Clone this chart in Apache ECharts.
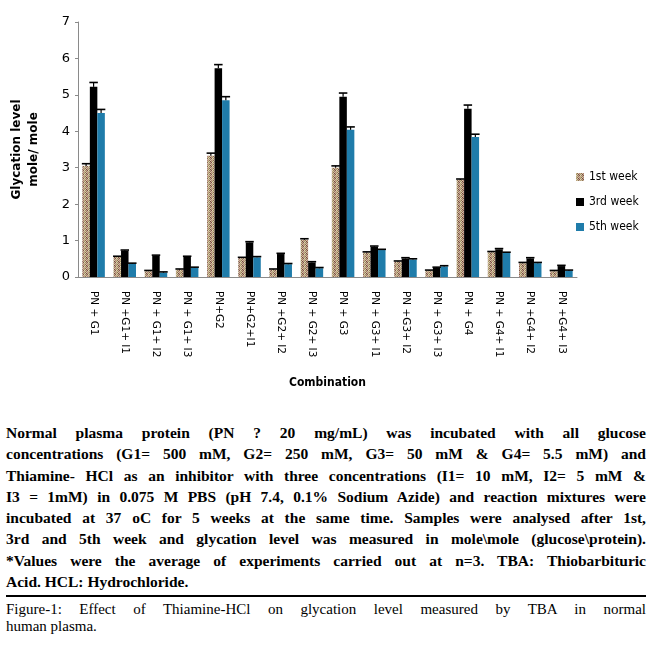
<!DOCTYPE html>
<html>
<head>
<meta charset="utf-8">
<script src="https://cdn.jsdelivr.net/npm/echarts@6/dist/echarts.min.js"></script>
<style>
  html, body { margin: 0; padding: 0; background: #fff; }
  #chart { width: 650px; height: 395px; }
  #notes { position: absolute; left: 6px; top: 422px; width: 640px;
           font-family: "Liberation Serif", "DejaVu Serif", serif; color: #000; }
  .para div { font-weight: bold; font-size: 15.5px; line-height: 21.3px; height: 21.3px;
              text-align: justify; text-align-last: justify; white-space: nowrap; }
  .para div.last { text-align-last: left; }
  .rule { border-top: 2.5px solid #000; margin-top: 3px; }
  .caption div { font-size: 15px; line-height: 17px; height: 17px;
                 text-align: justify; text-align-last: justify; white-space: nowrap; }
  .caption div.last { text-align-last: left; }
</style>
</head>
<body>
<div id="chart"></div>
<div id="notes">
  <div class="para">
    <div>Normal plasma protein (PN ? 20 mg/mL) was incubated with all glucose</div>
    <div>concentrations (G1= 500 mM, G2= 250 mM, G3= 50 mM &amp; G4= 5.5 mM) and</div>
    <div>Thiamine- HCl as an inhibitor with three concentrations (I1= 10 mM, I2= 5 mM &amp;</div>
    <div>I3 = 1mM) in 0.075 M PBS (pH 7.4, 0.1% Sodium Azide) and reaction mixtures were</div>
    <div>incubated at 37 oC for 5 weeks at the same time. Samples were analysed after 1st,</div>
    <div>3rd and 5th week and glycation level was measured in mole\mole (glucose\protein).</div>
    <div>*Values were the average of experiments carried out at n=3. TBA: Thiobarbituric</div>
    <div class="last">Acid. HCL: Hydrochloride.</div>
  </div>
  <div class="rule"></div>
  <div class="caption" style="margin-top:4px">
    <div>Figure-1: Effect of Thiamine-HCl on glycation level measured by TBA in normal</div>
    <div class="last">human plasma.</div>
  </div>
</div>
<script>
// x categories
var categories = ['PN + G1', 'PN +G1+ I1', 'PN + G1+ I2', 'PN + G1+ I3',
  'PN+G2', 'PN+G2+I1', 'PN +G2+ I2', 'PN + G2+ I3',
  'PN + G3', 'PN + G3+ I1', 'PN +G3+ I2', 'PN + G3+ I3',
  'PN + G4', 'PN + G4+ I1', 'PN +G4+ I2', 'PN +G4+ I3'];

// glycation level (mole/mole)
var week1 = [3.05, 0.55, 0.16, 0.20, 3.33, 0.52, 0.20, 1.02, 3.00, 0.67, 0.42, 0.17, 2.66, 0.68, 0.38, 0.16];
var week3 = [5.22, 0.72, 0.58, 0.55, 5.73, 0.95, 0.63, 0.40, 4.95, 0.83, 0.51, 0.25, 4.62, 0.76, 0.51, 0.30];
var week5 = [4.50, 0.36, 0.12, 0.25, 4.85, 0.54, 0.35, 0.24, 4.04, 0.74, 0.48, 0.29, 3.84, 0.66, 0.38, 0.17];

// error bar heights
var err1 = [0.06, 0.02, 0.02, 0.02, 0.07, 0.02, 0.02, 0.03, 0.05, 0.02, 0.02, 0.02, 0.03, 0.02, 0.02, 0.02];
var err3 = [0.12, 0.02, 0.02, 0.02, 0.10, 0.02, 0.02, 0.02, 0.10, 0.02, 0.02, 0.02, 0.10, 0.02, 0.02, 0.02];
var err5 = [0.10, 0.02, 0.02, 0.02, 0.10, 0.02, 0.02, 0.02, 0.08, 0.02, 0.02, 0.02, 0.08, 0.02, 0.02, 0.02];

var seriesNames = ['1st week', '3rd week', '5th week'];

var barW = 7.5;

// speckled fill for the 1st week bars
function speckle() {
  var c = document.createElement('canvas');
  c.width = 4; c.height = 4;
  var ctx = c.getContext('2d');
  var cols = [
    '#c9b48e', '#8c6b52', '#d8c9a3', '#b07f7a',
    '#a39a6a', '#dcc7b0', '#6e4a3c', '#c4a98a',
    '#e0d2b4', '#9b8a5e', '#c59a92', '#7d5a45',
    '#b9a47e', '#d3bfa0', '#8f7a56', '#cdb2a2'
  ];
  for (var i = 0; i < 16; i++) {
    ctx.fillStyle = cols[i];
    ctx.fillRect(i % 4, Math.floor(i / 4), 1, 1);
  }
  return c;
}

function errRender(offset) {
  return function (params, api) {
    var base = api.coord([api.value(0), api.value(1)]);
    var top = api.coord([api.value(0), api.value(1) + api.value(2)]);
    var x = base[0] + offset;
    var hw = barW / 2 + 0.5;
    return {
      type: 'group',
      children: [
        { type: 'line', shape: { x1: x, y1: base[1], x2: x, y2: top[1] }, style: { stroke: '#000', lineWidth: 1.2 } },
        { type: 'line', shape: { x1: x - hw, y1: top[1], x2: x + hw, y2: top[1] }, style: { stroke: '#000', lineWidth: 1.6 } }
      ]
    };
  };
}

function errData(vals, errs) {
  var out = [];
  for (var i = 0; i < vals.length; i++) out.push([i, vals[i], errs[i]]);
  return out;
}

var myChart = echarts.init(document.getElementById('chart'));

myChart.setOption({
  animation: false,
  backgroundColor: '#fff',
  textStyle: { fontFamily: 'DejaVu Sans' },
  grid: { left: 72, right: 73, top: 22, bottom: 118 },
  legend: {
    orient: 'vertical',
    left: 571,
    top: 166,
    itemWidth: 8,
    itemHeight: 8,
    itemGap: 13,
    icon: 'rect',
    data: seriesNames,
    textStyle: { fontSize: 12, color: '#000', fontFamily: 'DejaVu Sans Condensed, DejaVu Sans' }
  },
  xAxis: {
    type: 'category',
    data: categories,
    name: 'Combination',
    nameLocation: 'middle',
    nameGap: 100,
    nameTextStyle: { fontWeight: 'bold', fontSize: 12, color: '#000', fontFamily: 'DejaVu Sans Condensed, DejaVu Sans' },
    axisLine: { lineStyle: { color: '#8a8a8a' } },
    axisTick: { length: 4, lineStyle: { color: '#8a8a8a' } },
    axisLabel: { rotate: -90, interval: 0, fontSize: 10.5, color: '#000', margin: 14 }
  },
  yAxis: {
    type: 'value',
    min: 0,
    max: 7,
    interval: 1,
    name: 'Glycation level\nmole/ mole',
    nameLocation: 'middle',
    nameRotate: 90,
    nameGap: 36,
    nameTextStyle: { fontWeight: 'bold', fontSize: 12, color: '#000', lineHeight: 17 },
    axisLine: { show: true, lineStyle: { color: '#8a8a8a' } },
    axisTick: { show: true, length: 3, lineStyle: { color: '#8a8a8a' } },
    axisLabel: { fontSize: 13, color: '#000', margin: 8 },
    splitLine: { show: false }
  },
  series: [
    { name: seriesNames[0], type: 'bar', data: week1, barWidth: barW, barGap: '0%',
      itemStyle: { color: { image: speckle(), repeat: 'repeat' } } },
    { name: seriesNames[1], type: 'bar', data: week3, barWidth: barW, barGap: '0%',
      itemStyle: { color: '#000' } },
    { name: seriesNames[2], type: 'bar', data: week5, barWidth: barW, barGap: '0%',
      itemStyle: { color: '#1f7caa' } },
    { type: 'custom', renderItem: errRender(-barW), data: errData(week1, err1), z: 5, silent: true },
    { type: 'custom', renderItem: errRender(0), data: errData(week3, err3), z: 5, silent: true },
    { type: 'custom', renderItem: errRender(barW), data: errData(week5, err5), z: 5, silent: true }
  ]
});
</script>
</body>
</html>
